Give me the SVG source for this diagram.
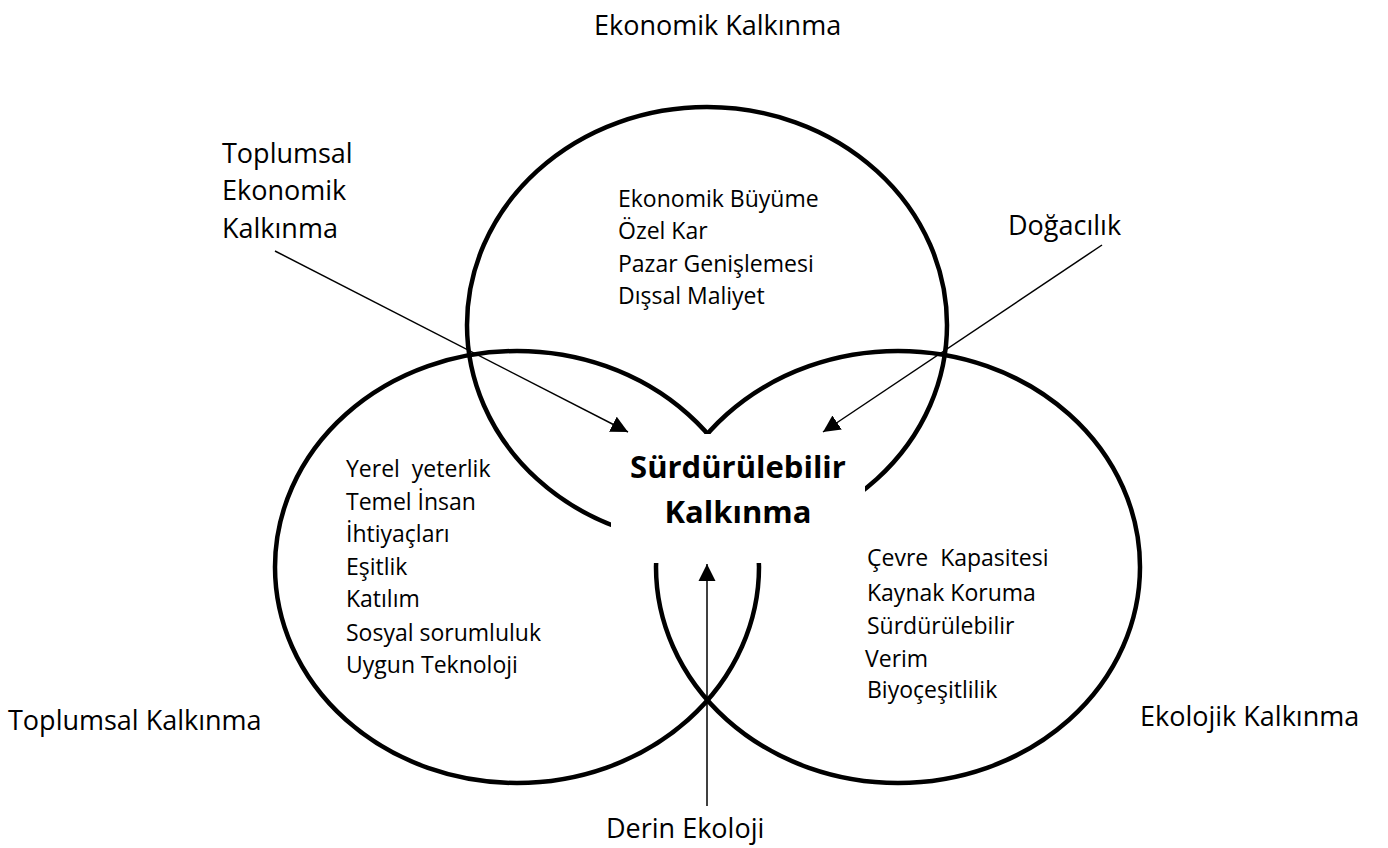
<svg xmlns="http://www.w3.org/2000/svg" width="1388" height="848" viewBox="0 0 1388 848">
  <style>
    .ring { fill: none; stroke: #000; stroke-width: 4.5; }
    .arrow { fill: none; stroke: #000; stroke-width: 1.5; marker-end: url(#head); }
    text { font-family: "Open Sans", "Liberation Sans", sans-serif; fill: #000; }
    .label { font-size: 27px; }
    .item { font-size: 23px; }
    .core { font-size: 31px; font-weight: bold; text-anchor: middle; }
  </style>
  <defs>
    <marker id="head" markerUnits="userSpaceOnUse" markerWidth="18" markerHeight="18" viewBox="0 0 18 18" refX="17" refY="9" orient="auto">
      <path d="M0,0.5 L17,9 L0,17.5 Z" fill="#000"/>
    </marker>
    <!-- opening in the middle of the rings where the central title sits -->
    <mask id="centre-gap" maskUnits="userSpaceOnUse" x="0" y="0" width="1388" height="848">
      <rect x="0" y="0" width="1388" height="848" fill="#fff"/>
      <rect x="611" y="434" width="254" height="129" fill="#000"/>
    </mask>
  </defs>

  <rect x="0" y="0" width="1388" height="848" fill="#fff"/>

  <g id="rings" mask="url(#centre-gap)">
    <g id="economic">
      <ellipse class="ring" cx="707" cy="325" rx="240" ry="218"/>
    </g>
    <g id="social">
      <ellipse class="ring" cx="517" cy="567" rx="242" ry="216"/>
    </g>
    <g id="ecological">
      <ellipse class="ring" cx="898" cy="567" rx="242" ry="216"/>
    </g>
  </g>

  <g id="connectors">
    <line class="arrow" x1="275" y1="251" x2="628" y2="432"/>
    <line class="arrow" x1="1102" y1="245" x2="823" y2="432"/>
    <line class="arrow" x1="707" y1="806" x2="707" y2="564"/>
  </g>

  <g id="economic-label">
    <text class="label" x="594" y="35">Ekonomik Kalkınma</text>
  </g>
  <g id="economic-items" class="item">
    <text class="item" x="618" y="207">Ekonomik Büyüme</text>
    <text class="item" x="618" y="239">Özel Kar</text>
    <text class="item" x="618" y="272">Pazar Genişlemesi</text>
    <text class="item" x="618" y="304">Dışsal Maliyet</text>
  </g>

  <g id="socio-economic-label">
    <text class="label" x="222" y="163">Toplumsal</text>
    <text class="label" x="222" y="200">Ekonomik</text>
    <text class="label" x="222" y="238">Kalkınma</text>
  </g>

  <g id="naturalism-label">
    <text class="label" x="1008" y="235">Doğacılık</text>
  </g>

  <g id="social-items">
    <text class="item" x="346" y="477" xml:space="preserve">Yerel  yeterlik</text>
    <text class="item" x="346" y="510">Temel İnsan</text>
    <text class="item" x="346" y="542">İhtiyaçları</text>
    <text class="item" x="346" y="575">Eşitlik</text>
    <text class="item" x="346" y="607">Katılım</text>
    <text class="item" x="346" y="641">Sosyal sorumluluk</text>
    <text class="item" x="346" y="673">Uygun Teknoloji</text>
  </g>

  <g id="ecological-items">
    <text class="item" x="867" y="566" xml:space="preserve">Çevre  Kapasitesi</text>
    <text class="item" x="867" y="601">Kaynak Koruma</text>
    <text class="item" x="867" y="634">Sürdürülebilir</text>
    <text class="item" x="865" y="667">Verim</text>
    <text class="item" x="867" y="698">Biyoçeşitlilik</text>
  </g>

  <g id="sustainable-development">
    <text class="core" x="738" y="478">Sürdürülebilir</text>
    <text class="core" x="738" y="523">Kalkınma</text>
  </g>

  <g id="social-label">
    <text class="label" x="8" y="730">Toplumsal Kalkınma</text>
  </g>
  <g id="ecological-label">
    <text class="label" x="1140" y="726">Ekolojik Kalkınma</text>
  </g>
  <g id="deep-ecology-label">
    <text class="label" x="606" y="838">Derin Ekoloji</text>
  </g>
</svg>
